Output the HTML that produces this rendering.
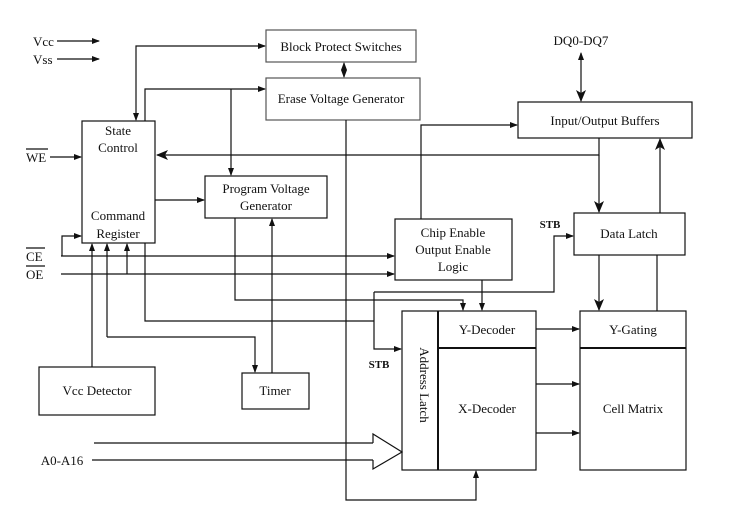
<!DOCTYPE html>
<html><head><meta charset="utf-8"><style>body{margin:0;background:#fff}svg{display:block}</style></head><body>
<svg width="729" height="517" viewBox="0 0 729 517" xmlns="http://www.w3.org/2000/svg" font-family="Liberation Serif, serif" font-size="13" fill="none" stroke="#111" stroke-width="1.2">
<defs>
<marker id="a" markerWidth="8" markerHeight="8" refX="7" refY="4" orient="auto" markerUnits="userSpaceOnUse"><path d="M0,1 L8,4 L0,7z" fill="#111" stroke="none"/></marker>
<marker id="b" markerWidth="12" markerHeight="12" refX="11" refY="6" orient="auto" markerUnits="userSpaceOnUse"><path d="M0,1 L12,6 L0,11 L3,6z" fill="#111" stroke="none"/></marker>
<marker id="s" markerWidth="8" markerHeight="8" refX="1" refY="4" orient="auto" markerUnits="userSpaceOnUse"><path d="M8,1 L0,4 L8,7z" fill="#111" stroke="none"/></marker>
</defs>
<!-- boxes -->
<rect x="266" y="30" width="150" height="32" stroke="#555"/>
<rect x="266" y="78" width="154" height="42" stroke="#555"/>
<rect x="82" y="121" width="73" height="122"/>
<rect x="205" y="176" width="122" height="42"/>
<rect x="395" y="219" width="117" height="61"/>
<rect x="518" y="102" width="174" height="36"/>
<rect x="574" y="213" width="111" height="42"/>
<rect x="402" y="311" width="134" height="159"/>
<line x1="438" y1="311" x2="438" y2="470" stroke-width="2"/>
<line x1="438" y1="348" x2="536" y2="348" stroke-width="2"/>
<rect x="580" y="311" width="106" height="159"/>
<line x1="580" y1="348" x2="686" y2="348" stroke-width="2"/>
<rect x="39" y="367" width="116" height="48"/>
<rect x="242" y="373" width="67" height="36"/>
<!-- text -->
<g fill="#111" stroke="none" text-anchor="middle">
<text x="341" y="51">Block Protect  Switches</text>
<text x="341" y="103">Erase Voltage Generator</text>
<text x="118" y="135">State</text><text x="118" y="152">Control</text>
<text x="118" y="220">Command</text><text x="118" y="238">Register</text>
<text x="266" y="193">Program Voltage</text><text x="266" y="210">Generator</text>
<text x="453" y="237">Chip Enable</text><text x="453" y="254">Output Enable</text><text x="453" y="271">Logic</text>
<text x="605" y="125">Input/Output Buffers</text>
<text x="629" y="238">Data Latch</text>
<text x="487" y="334">Y-Decoder</text>
<text x="487" y="413">X-Decoder</text>
<text x="633" y="334">Y-Gating</text>
<text x="633" y="413">Cell Matrix</text>
<text x="97" y="395">Vcc Detector</text>
<text x="275" y="395">Timer</text>
<text x="420" y="385" transform="rotate(90 420 385)">Address Latch</text>
<text x="581" y="45">DQ0-DQ7</text>
<text x="62" y="465">A0-A16</text>
<text x="379" y="368" font-weight="bold" font-size="11">STB</text>
<text x="550" y="228" font-weight="bold" font-size="11">STB</text>
</g>
<g fill="#111" stroke="none">
<text x="33" y="46">Vcc</text><text x="33" y="64">Vss</text>
<text x="26" y="162">WE</text><text x="26" y="261">CE</text><text x="26" y="279">OE</text>
</g>
<line x1="26" y1="149" x2="48" y2="149"/><line x1="26" y1="248" x2="45" y2="248"/><line x1="26" y1="266" x2="45" y2="266"/>
<!-- connectors -->
<line x1="57" y1="41" x2="99" y2="41" marker-end="url(#a)"/>
<line x1="57" y1="59" x2="99" y2="59" marker-end="url(#a)"/>
<polyline points="136,120 136,46 265,46" marker-end="url(#a)" marker-start="url(#s)"/>
<polyline points="145,121 145,89 265,89" marker-end="url(#a)"/>
<line x1="231" y1="89" x2="231" y2="175" marker-end="url(#a)"/>
<line x1="344" y1="63" x2="344" y2="77" marker-end="url(#a)" marker-start="url(#s)"/>
<line x1="50" y1="157" x2="81" y2="157" marker-end="url(#a)"/>
<polyline points="599,138 599,155 157,155" marker-end="url(#b)"/>
<line x1="599" y1="155" x2="599" y2="212" marker-end="url(#b)"/>
<line x1="155" y1="200" x2="204" y2="200" marker-end="url(#a)"/>
<line x1="61" y1="256" x2="394" y2="256" marker-end="url(#a)"/>
<polyline points="62,256 62,236 81,236" marker-end="url(#a)"/>
<line x1="61" y1="274" x2="394" y2="274" marker-end="url(#a)"/>
<line x1="127" y1="274" x2="127" y2="244" marker-end="url(#a)"/>
<line x1="92" y1="367" x2="92" y2="244" marker-end="url(#a)"/>
<line x1="107" y1="337" x2="107" y2="244" marker-end="url(#a)"/>
<polyline points="107,337 255,337 255,372" marker-end="url(#a)"/>
<polyline points="145,243 145,321 374,321"/>
<polyline points="374,292 374,349 401,349" marker-end="url(#a)"/>
<polyline points="374,292 554,292 554,236 573,236" marker-end="url(#a)"/>
<polyline points="235,218 235,300 463,300 463,310" marker-end="url(#a)"/>
<line x1="272" y1="373" x2="272" y2="219" marker-end="url(#a)"/>
<polyline points="346,120 346,500 476,500 476,471" marker-end="url(#a)"/>
<line x1="482" y1="280" x2="482" y2="310" marker-end="url(#a)"/>
<polyline points="421,219 421,125 517,125" marker-end="url(#a)"/>
<line x1="660" y1="213" x2="660" y2="139" marker-end="url(#b)"/>
<line x1="599" y1="255" x2="599" y2="310" marker-end="url(#b)"/>
<line x1="657" y1="255" x2="657" y2="311"/>
<line x1="536" y1="329" x2="579" y2="329" marker-end="url(#a)"/>
<line x1="536" y1="384" x2="579" y2="384" marker-end="url(#a)"/>
<line x1="536" y1="433" x2="579" y2="433" marker-end="url(#a)"/>
<line x1="581" y1="53" x2="581" y2="101" marker-end="url(#b)" marker-start="url(#s)"/>
<line x1="94" y1="443" x2="373" y2="443"/>
<line x1="92" y1="460" x2="373" y2="460"/>
<polyline points="373,443 373,434 402,452 373,469 373,460" fill="#fff"/>
</svg>
</body></html>
